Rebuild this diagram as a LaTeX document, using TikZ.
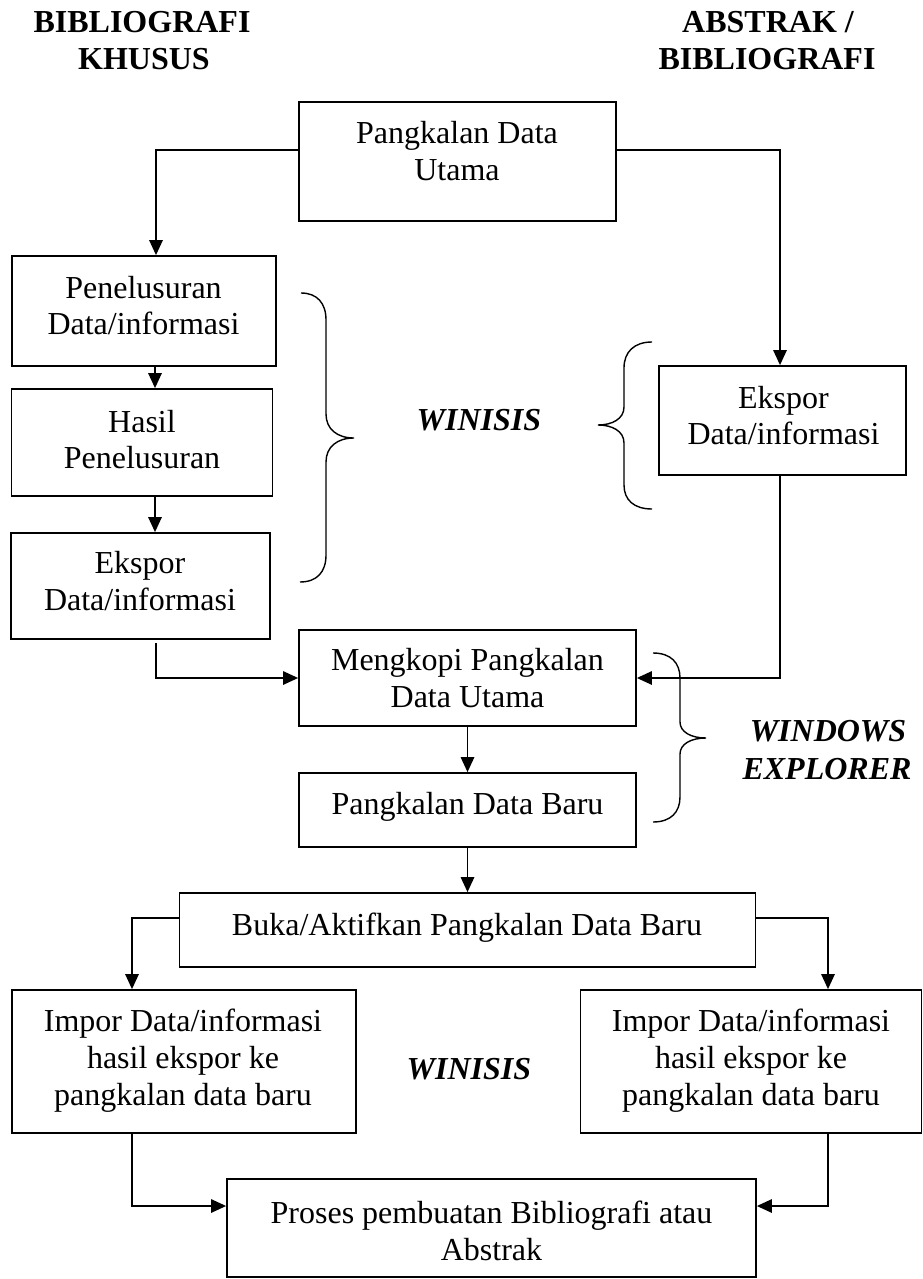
\documentclass[tikz,border=0pt]{standalone}
\usepackage{fontspec}
\setmainfont{Liberation Serif}
\usetikzlibrary{arrows.meta,calc}
\begin{document}
\begin{tikzpicture}[x=1pt,y=-1pt,
  box/.style={draw,line width=1.8pt,inner sep=0pt},
  txt/.style={anchor=base,inner sep=0pt,font=\fontsize{32}{37}\selectfont},
  ttl/.style={anchor=base,inner sep=0pt,font=\fontsize{32}{37}\selectfont\bfseries},
  lbl/.style={anchor=base,inner sep=0pt,font=\fontsize{32}{37}\selectfont\bfseries\itshape},
  conn/.style={line width=1.4pt,-{Triangle[length=15pt,width=13.5pt]}},
  bracestyle/.style={line width=1.4pt}
]
\useasboundingbox[fill=white] (0,0) rectangle (923,1279);

% titles
\node[ttl] (tl1) at (142,33) {BIBLIOGRAFI};
\node[ttl] (tl2) at (144,70) {KHUSUS};
\node[ttl] (tr1) at (768,33) {ABSTRAK /};
\node[ttl] (tr2) at (767,70) {BIBLIOGRAFI};

% boxes
\node[box,minimum width=317pt,minimum height=119pt] (pdu) at (457.5,161.5) {};
\node[box,minimum width=264pt,minimum height=110pt] (pen) at (144,311) {};
\node[box,minimum width=261pt,minimum height=107pt] (hasil) at (142,442.5) {};
\node[box,minimum width=259pt,minimum height=106pt] (eksL) at (140.5,586) {};
\node[box,minimum width=247pt,minimum height=109pt] (eksR) at (782.5,420.5) {};
\node[box,minimum width=337pt,minimum height=96pt] (meng) at (467.5,678) {};
\node[box,minimum width=337pt,minimum height=74pt] (baru) at (467.5,810) {};
\node[box,minimum width=576pt,minimum height=74pt] (buka) at (467.5,930) {};
\node[box,minimum width=344pt,minimum height=143pt] (imporL) at (184,1061.5) {};
\node[box,minimum width=341pt,minimum height=143pt] (imporR) at (751,1061.5) {};
\node[box,minimum width=529pt,minimum height=98pt] (proses) at (491.5,1228) {};

% box texts
\node[txt] (pdu1) at (457,143) {Pangkalan Data};
\node[txt] (pdu2) at (457,180) {Utama};
\node[txt] (pen1) at (143.5,298) {Penelusuran};
\node[txt] (pen2) at (143.5,334) {Data/informasi};
\node[txt] (has1) at (142,432) {Hasil};
\node[txt] (has2) at (142,468) {Penelusuran};
\node[txt] (ekl1) at (140,573) {Ekspor};
\node[txt] (ekl2) at (140,610) {Data/informasi};
\node[txt] (ekr1) at (783.5,408) {Ekspor};
\node[txt] (ekr2) at (783.5,444) {Data/informasi};
\node[txt] (men1) at (467.5,670) {Mengkopi Pangkalan};
\node[txt] (men2) at (467.5,707) {Data Utama};
\node[txt] (bar1) at (467.5,814) {Pangkalan Data Baru};
\node[txt] (buk1) at (467,935) {Buka/Aktifkan Pangkalan Data Baru};
\node[txt] (iml1) at (183,1031) {Impor Data/informasi};
\node[txt] (iml2) at (183,1068) {hasil ekspor ke};
\node[txt] (iml3) at (183,1105) {pangkalan data baru};
\node[txt] (imr1) at (751,1031) {Impor Data/informasi};
\node[txt] (imr2) at (751,1068) {hasil ekspor ke};
\node[txt] (imr3) at (751,1105) {pangkalan data baru};
\node[txt] (pro1) at (491.5,1223) {Proses pembuatan Bibliografi atau};
\node[txt] (pro2) at (491.5,1260) {Abstrak};

% side labels
\node[lbl] (win1) at (479,430) {WINISIS};
\node[lbl] (win2) at (469,1079) {WINISIS};
\node[lbl] (wex1) at (828,741) {WINDOWS};
\node[lbl] (wex2) at (827,779) {EXPLORER};

% connectors
\draw[conn] (pdu.west |- 0,150) -- (156,150) -- (156,0 |- pen.north);
\draw[conn] (pdu.east |- 0,150) -- (780,150) -- (780,0 |- eksR.north);
\draw[conn] (155,0 |- pen.south) -- (155,0 |- hasil.north);
\draw[conn] (155,0 |- hasil.south) -- (155,0 |- eksL.north);
\coordinate (eLstart) at (156,643);
\draw[conn] (eLstart) -- (156,678) -- (meng.west |- 0,678);
\draw[conn] (780,0 |- eksR.south) -- (780,678) -- (meng.east |- 0,678);
\draw[conn] (meng.south) -- (baru.north);
\draw[conn] (baru.south) -- (buka.north);
\draw[conn] (buka.west |- 0,918) -- (132,918) -- (132,0 |- imporL.north);
\draw[conn] (buka.east |- 0,918) -- (828,918) -- (828,0 |- imporR.north);
\draw[conn] (132,0 |- imporL.south) -- (132,1206) -- (proses.west |- 0,1206);
\draw[conn] (828,0 |- imporR.south) -- (828,1206) -- (proses.east |- 0,1206);

% braces
\draw[bracestyle] (301,293) .. controls (317,293) and (326,303) .. (326,320) -- (326,414)
  .. controls (326,429) and (337,438) .. (354,438)
  .. controls (337,438) and (326,447) .. (326,462) -- (326,555)
  .. controls (326,572) and (317,582) .. (300,582);
\draw[bracestyle] (652,342) .. controls (634,342) and (624,352) .. (624,368) -- (624,407)
  .. controls (624,419) and (612,425) .. (598,425)
  .. controls (612,425) and (624,431) .. (624,443) -- (624,485)
  .. controls (624,500) and (634,509) .. (652,509);
\draw[bracestyle] (653,653) .. controls (671,653) and (680,663) .. (680,678) -- (680,722)
  .. controls (680,732) and (691,738) .. (706,738)
  .. controls (691,738) and (680,744) .. (680,754) -- (680,797)
  .. controls (680,812) and (671,822) .. (653,822);
\end{tikzpicture}
\end{document}
